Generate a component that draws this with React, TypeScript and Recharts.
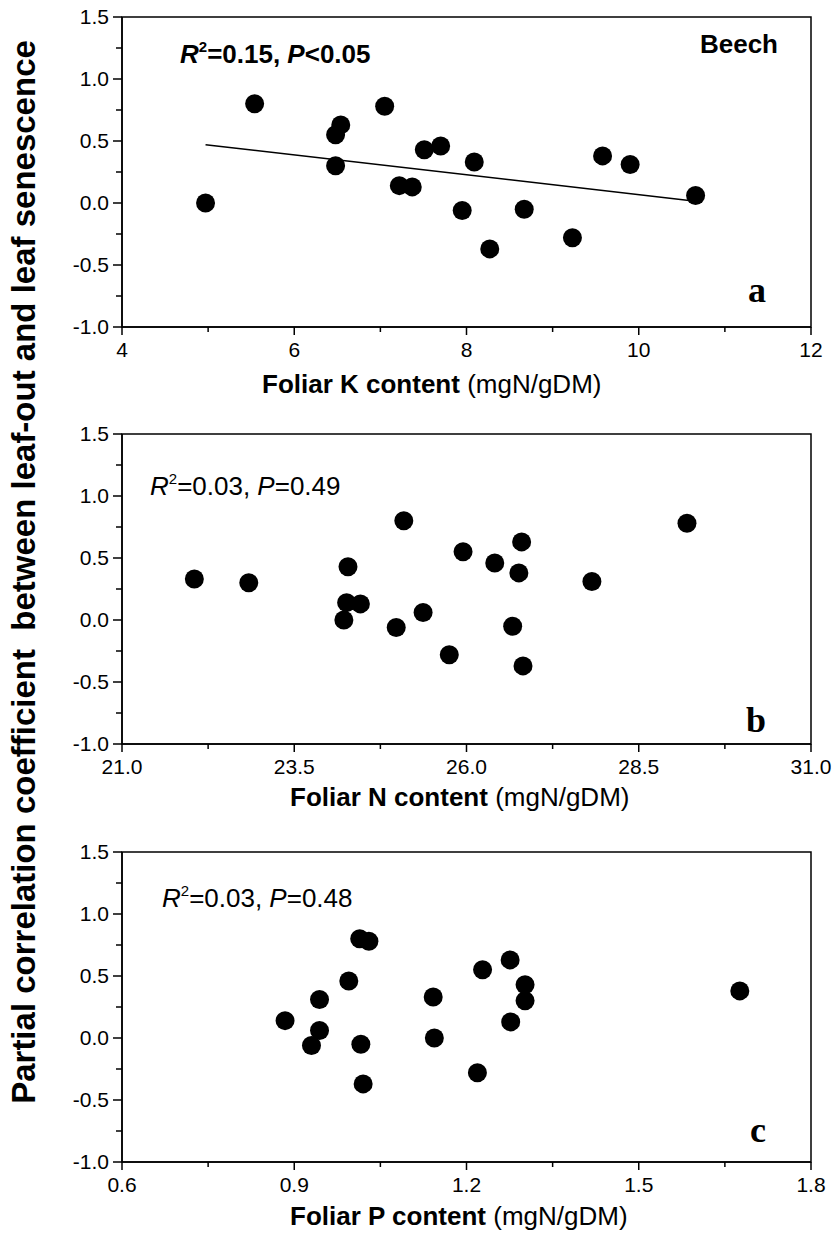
import React from 'react';
import { ScatterChart, Scatter, XAxis, YAxis, ReferenceArea } from 'recharts';

// partial correlation coefficient (leaf-out vs leaf senescence), one per site
const partialCorr = [0.0, 0.8, 0.78, 0.63, 0.55, 0.3, 0.43, 0.46, 0.33, 0.14, 0.13, -0.06, -0.05, -0.37, -0.28, 0.38, 0.31, 0.06];
// foliar contents for the same sites
const foliarK = [4.97, 5.54, 7.05, 6.54, 6.48, 6.48, 7.51, 7.7, 8.09, 7.22, 7.37, 7.95, 8.67, 8.27, 9.23, 9.58, 9.9, 10.66];
const foliarN = [24.22, 25.09, 29.2, 26.8, 25.95, 22.84, 24.28, 26.41, 22.05, 24.26, 24.46, 24.98, 26.67, 26.82, 25.75, 26.76, 27.82, 25.37];
const foliarP = [1.144, 1.014, 1.03, 1.276, 1.228, 1.302, 1.302, 0.995, 1.142, 0.884, 1.277, 0.93, 1.016, 1.02, 1.219, 1.676, 0.944, 0.944];

// fitted line for panel a
const kFitX = [4.97, 10.66];
const kFitY = [0.47, 0.015];

// axis ticks (major + minor)
const yTicks = [-1, -0.75, -0.5, -0.25, 0, 0.25, 0.5, 0.75, 1, 1.25, 1.5];
const kTicks = [4, 5, 6, 7, 8, 9, 10, 11, 12];
const nTicks = [21, 22.25, 23.5, 24.75, 26, 27.25, 28.5, 29.75, 31];
const pTicks = [0.6, 0.75, 0.9, 1.05, 1.2, 1.35, 1.5, 1.65, 1.8];

const SANS = "'Liberation Sans', Arial, sans-serif";
const SERIF = "'Liberation Serif', 'Times New Roman', serif";

const W = 834;
const H = 400;

const makeXTick = (ticks: number[], digits: number) => (props: any) => {
  const { x, y, payload } = props;
  const idx = ticks.findIndex((t) => Math.abs(t - payload.value) < 1e-9);
  const major = idx % 2 === 0;
  return (
    <g>
      <line x1={x} y1={y} x2={x} y2={y + (major ? 8 : 5)} stroke="#000" strokeWidth={1.5} />
      {major && (
        <text x={x} y={y + 30} textAnchor="middle" fontFamily={SANS} fontSize={21} fill="#000">
          {payload.value.toFixed(digits)}
        </text>
      )}
    </g>
  );
};

const yTick = (props: any) => {
  const { x, y, payload } = props;
  const idx = yTicks.findIndex((t) => Math.abs(t - payload.value) < 1e-9);
  const major = idx % 2 === 0;
  return (
    <g>
      <line x1={x} y1={y} x2={x - (major ? 9 : 6)} y2={y} stroke="#000" strokeWidth={1.5} />
      {major && (
        <text x={x - 13} y={y + 7} textAnchor="end" fontFamily={SANS} fontSize={21} fill="#000">
          {payload.value.toFixed(1)}
        </text>
      )}
    </g>
  );
};

const dot = (p: any) => <circle cx={p.cx} cy={p.cy} r={9.5} fill="#000" />;

interface PanelProps {
  top: number;
  xs: number[];
  ticks: number[];
  digits: number;
  fit?: { x: number; y: number }[];
}

const Panel: React.FC<PanelProps> = ({ top, xs, ticks, digits, fit }) => {
  const data = xs.map((x, i) => ({ x, y: partialCorr[i] }));
  const lo = ticks[0];
  const hi = ticks[ticks.length - 1];
  return (
    <div style={{ position: 'absolute', left: 0, top, width: W, height: H }}>
      <ScatterChart width={W} height={H} margin={{ top: 17, right: 23, bottom: 13, left: 62 }}>
        <XAxis
          type="number"
          dataKey="x"
          domain={[lo, hi]}
          ticks={ticks}
          interval={0}
          tick={makeXTick(ticks, digits)}
          tickLine={false}
          tickSize={0}
          tickMargin={0}
          axisLine={{ stroke: '#000', strokeWidth: 1.5 }}
          height={60}
          allowDataOverflow
        />
        <YAxis
          type="number"
          dataKey="y"
          domain={[-1, 1.5]}
          ticks={yTicks}
          interval={0}
          tick={yTick}
          tickLine={false}
          tickSize={0}
          tickMargin={0}
          axisLine={{ stroke: '#000', strokeWidth: 1.5 }}
          width={60}
          allowDataOverflow
        />
        <ReferenceArea x1={lo} x2={hi} y1={-1} y2={1.5} fill="none" stroke="#000" strokeWidth={1.5} />
        <Scatter data={data} shape={dot} isAnimationActive={false} />
        {fit && (
          <Scatter
            data={fit}
            line={{ stroke: '#000', strokeWidth: 1.5 }}
            shape={() => <g />}
            isAnimationActive={false}
          />
        )}
      </ScatterChart>
    </div>
  );
};

const Stat = ({ x, y, r2, p, bold }: { x: number; y: number; r2: string; p: string; bold?: boolean }) => (
  <text x={x} y={y} fontFamily={SANS} fontSize={26} fontWeight={bold ? 'bold' : 'normal'} fill="#000">
    <tspan fontStyle="italic">R</tspan>
    <tspan dy={-11} fontSize={15}>2</tspan>
    <tspan dy={11}>{'=' + r2 + ', '}</tspan>
    <tspan fontStyle="italic">P</tspan>
    <tspan>{p}</tspan>
  </text>
);

const XTitle = ({ x, y, el }: { x: number; y: number; el: string }) => (
  <text x={x} y={y} fontFamily={SANS} fontSize={26} fill="#000">
    <tspan fontWeight="bold">{`Foliar ${el} content`}</tspan>
    <tspan>{' (mgN/gDM)'}</tspan>
  </text>
);

export default function App() {
  const fit = kFitX.map((x, i) => ({ x, y: kFitY[i] }));
  return (
    <div style={{ position: 'absolute', left: 0, top: 0, width: W, height: 1238, background: '#fff' }}>
      <Panel top={0} xs={foliarK} ticks={kTicks} digits={0} fit={fit} />
      <Panel top={417} xs={foliarN} ticks={nTicks} digits={1} />
      <Panel top={835} xs={foliarP} ticks={pTicks} digits={1} />
      <svg width={W} height={1238} style={{ position: 'absolute', left: 0, top: 0, pointerEvents: 'none' }}>
        <text
          transform="translate(35,572) rotate(-90)"
          textAnchor="middle"
          fontFamily={SANS}
          fontSize={33}
          fontWeight="bold"
          fill="#000"
          style={{ whiteSpace: 'pre' }}
        >
          {'Partial correlation coefficient  between leaf-out and leaf senescence'}
        </text>

        <Stat x={180} y={63} r2="0.15" p="<0.05" bold />
        <text x={778} y={53} textAnchor="end" fontFamily={SANS} fontSize={26} fontWeight="bold" fill="#000">
          Beech
        </text>
        <text x={766} y={302} textAnchor="end" fontFamily={SERIF} fontSize={36} fontWeight="bold" fill="#000">
          a
        </text>
        <XTitle x={262} y={393} el="K" />

        <Stat x={150} y={495} r2="0.03" p="=0.49" />
        <text x={766} y={732} textAnchor="end" fontFamily={SERIF} fontSize={36} fontWeight="bold" fill="#000">
          b
        </text>
        <XTitle x={290} y={806} el="N" />

        <Stat x={162} y={907} r2="0.03" p="=0.48" />
        <text x={766} y={1142} textAnchor="end" fontFamily={SERIF} fontSize={36} fontWeight="bold" fill="#000">
          c
        </text>
        <XTitle x={290} y={1225} el="P" />
      </svg>
    </div>
  );
}
